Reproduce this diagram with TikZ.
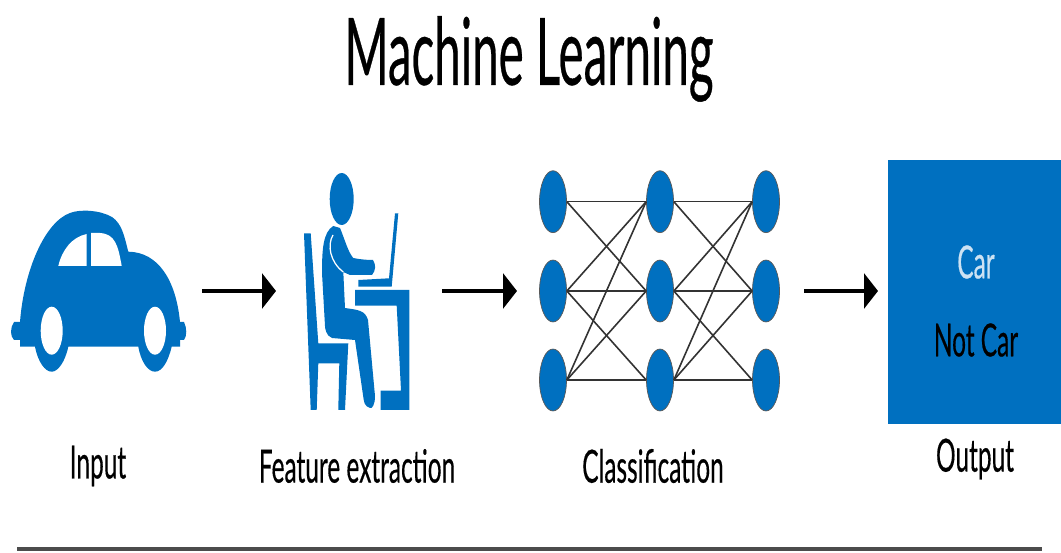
\documentclass[tikz,border=0pt]{standalone}
\usepackage{fontspec}
\setmainfont{Lato}
\usetikzlibrary{arrows.meta,shapes.geometric}

\definecolor{iconblue}{RGB}{0,112,192}
\tikzset{
  icon/.style={fill=iconblue, draw=none},
  unit/.style={ellipse, fill=iconblue, draw=gray!70!black, thin, inner sep=0pt, minimum width=0.54cm, minimum height=1.24cm},
  link/.style={draw=black!80, line width=0.32mm},
  flow/.style={draw=black, line width=0.65mm, -{Triangle[length=2.8mm,width=7mm]}},
  caption/.style={inner sep=0pt, xscale=0.535, font=\fontsize{26}{30}\selectfont\addfontfeature{FakeBold=0.5}},
}

\begin{document}
\begin{tikzpicture}[x=0.02cm,y=-0.02cm]
   \useasboundingbox (0,0) rectangle (1061,553);

   % title
    \node[inner sep=0pt, xscale=0.51, font=\fontsize{53}{60}\selectfont\addfontfeature{FakeBold=0.5}] (title) at (529,59) {Machine Learning};

   % car
    \fill[icon] (20,322) -- (14,322) .. controls (10,328) and (10,336) .. (14,340) -- (20,340) -- (20,346.7) -- (35,346.7)
        .. controls (38,362) and (45,371.7) .. (51.7,371.7) .. controls (58,371.7) and (65,362) .. (68.3,346.7)
        -- (138.3,346.7) .. controls (141,362) and (148,371.7) .. (155,371.7) .. controls (162,371.7) and (168,362) .. (171.7,346.7)
        -- (180,346.7) -- (180,340) -- (184,340) .. controls (187,336) and (187,328) .. (184,322) -- (180,322)
        .. controls (176,280) and (158,252) .. (128.3,251.7)
        .. controls (124,235) and (122,224) .. (112,217) .. controls (100,210) and (80,209) .. (70,213)
        .. controls (45,222) and (24,270) .. (20,322) -- cycle;
    \fill[white] (58.3,266) -- (86.7,266) -- (86.7,234) .. controls (72,237) and (62,250) .. (58.3,266) -- cycle;
    \fill[white] (91,266) -- (121.7,266) .. controls (118,245) and (115,234) .. (100,233) -- (91,233) -- cycle;
    \fill[white] (51.7,330.7) ellipse (11 and 24);
    \fill[white] (155,330.7) ellipse (11 and 24);

   % person at the desk
    \fill[icon] (341.7,199) ellipse (12 and 26);
    \fill[icon] (304,233.3) -- (310.7,233.3) -- (318.3,343.3) -- (348.3,343.3) -- (345,410) -- (338.3,410) -- (339.3,363.3) -- (318.3,363.3) -- (316.7,410) -- (310.7,410) -- cycle;
    \fill[icon] (333.3,226) -- (340,228) .. controls (345,240) and (348,252) .. (353.3,258) .. controls (358,259) and (365,260) .. (373,260)
        .. controls (376,265) and (376,270) .. (372,275) -- (350,275) -- (343.3,272) -- (345,308) .. controls (358,310) and (365,310) .. (368,320)
        -- (375,396) .. controls (375,405) and (372,409) .. (370,408) .. controls (364,406) and (364,402) .. (363,395) -- (355,340)
        -- (332,338) .. controls (326,336) and (325,328) .. (325,326) -- (322,273) .. controls (322,250) and (323,232) .. (333.3,226) -- cycle;
    \draw[white, line width=0.25mm] (333,235) .. controls (327,245) and (330,262) .. (343.3,272);
    \fill[icon] (395,213.3) -- (398.3,213.3) -- (391.7,286.7) -- (358.3,286.7) -- (358.3,280) -- (389,278.3) -- cycle;
    \fill[icon] (355,290) -- (409.3,290) -- (409.3,410) -- (380.7,410) -- (380.7,390.7) -- (401,390.7) -- (396.7,305.7) -- (355,305.7) -- cycle;

   % network
    \foreach \col/\xpos in {1/553, 2/660, 3/766} {
      \foreach \row/\ypos in {1/201.7, 2/291, 3/380} {
        \node[unit] (u\col\row) at (\xpos,\ypos) {};
      }
    }
    \foreach \col/\nxt in {1/2, 2/3} {
      \foreach \from/\to in {1/1, 2/2, 3/3, 1/2, 2/1, 2/3, 3/2, 3/1} {
        \draw[link] (u\col\from.east) -- (u\nxt\to.west);
      }
    }

   % output
    \node[fill=iconblue, inner sep=0pt, minimum width=3.46cm, minimum height=5.28cm] (outbox) at (974.5,292) {};
    \node[caption, text=white!80!iconblue] (car) at (976,262) {Car};
    \node[caption, text=black] (notcar) at (976,340) {Not Car};

   % arrows
    \coordinate (flowa) at (202,291);
    \coordinate (flowb) at (276,291);
    \coordinate (flowc) at (442,291);
    \coordinate (flowd) at (517,291);
    \coordinate (flowe) at (804,291);
    \coordinate (flowf) at (878,291);
    \draw[flow] (flowa) -- (flowb);
    \draw[flow] (flowc) -- (flowd);
    \draw[flow] (flowe) -- (flowf);

   % captions
    \node[caption] (input) at (98,466) {Input};
    \node[caption] (feature) at (357,466) {Feature extraction};
    \node[caption] (classif) at (653,466) {Classification};
    \node[caption] (output) at (975,459) {Output};

   % rule
    \coordinate (rulea) at (17,549);
    \coordinate (ruleb) at (1042,549);
    \draw[draw=black!70, line width=0.8mm] (rulea) -- (ruleb);

\end{tikzpicture}
\end{document}
